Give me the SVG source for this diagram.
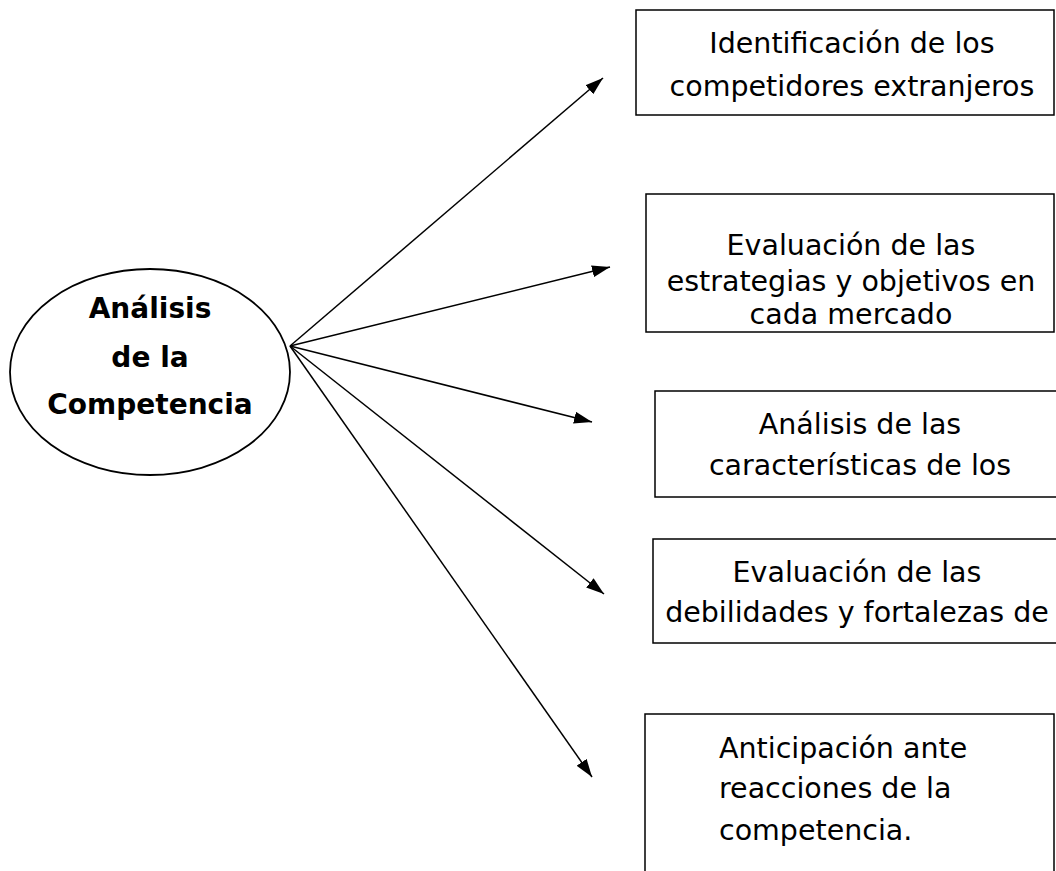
<svg xmlns="http://www.w3.org/2000/svg" width="1056" height="871" viewBox="0 0 1056 871">
<defs>
<marker id="arr" viewBox="0 0 18 12" refX="18" refY="6" markerWidth="18" markerHeight="12" markerUnits="userSpaceOnUse" orient="auto">
<path d="M0,0 L18,6 L0,12 z" fill="#000"/>
</marker>
<style>
.box{fill:#fff;stroke:#000;stroke-width:1.5}
.t{font-family:"DejaVu Sans",sans-serif;font-size:28.5px;fill:#000}
.c{text-anchor:middle}
.b{font-weight:bold;font-size:28px}
.ln{stroke:#000;stroke-width:1.5;fill:none;marker-end:url(#arr)}
</style>
</defs>
<rect width="1056" height="871" fill="#fff"/>
<g id="connectors">
<line class="ln" x1="290" y1="346" x2="603" y2="78"/>
<line class="ln" x1="290" y1="346" x2="610" y2="267"/>
<line class="ln" x1="290" y1="346" x2="592" y2="422"/>
<line class="ln" x1="290" y1="346" x2="604" y2="594"/>
<line class="ln" x1="290" y1="346" x2="592" y2="777"/>
</g>
<g id="center">
<ellipse cx="150" cy="372" rx="140" ry="103" fill="#fff" stroke="#000" stroke-width="1.8"/>
<text class="t c b" x="150" y="318">Análisis</text>
<text class="t c b" x="150" y="367">de la</text>
<text class="t c b" x="150" y="414">Competencia</text>
</g>
<g id="n1">
<rect class="box" x="636" y="10" width="418" height="105"/>
<text class="t c" x="852" y="53">Identificación de los</text>
<text class="t c" x="852" y="96">competidores extranjeros</text>
</g>
<g id="n2">
<rect class="box" x="646" y="194" width="408" height="138"/>
<text class="t c" x="851" y="255">Evaluación de las</text>
<text class="t c" x="851" y="291">estrategias y objetivos en</text>
<text class="t c" x="851" y="324">cada mercado</text>
</g>
<g id="n3">
<rect class="box" x="655" y="391" width="410" height="106"/>
<text class="t c" x="860" y="434">Análisis de las</text>
<text class="t c" x="860" y="475">características de los</text>
</g>
<g id="n4">
<rect class="box" x="653" y="539" width="412" height="104"/>
<text class="t c" x="857" y="582">Evaluación de las</text>
<text class="t c" x="857" y="622">debilidades y fortalezas de</text>
</g>
<g id="n5">
<rect class="box" x="645" y="714" width="409" height="170"/>
<text class="t" x="719" y="758">Anticipación ante</text>
<text class="t" x="719" y="798">reacciones de la</text>
<text class="t" x="719" y="840">competencia.</text>
</g>
</svg>
